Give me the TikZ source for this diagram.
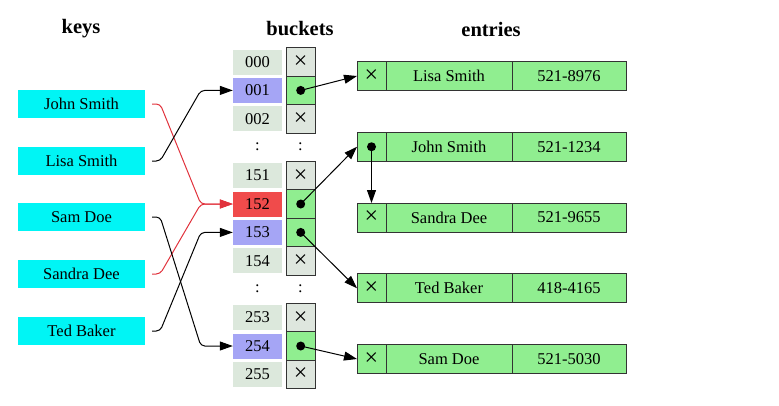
\documentclass[tikz,border=0pt]{standalone}
\usepackage{fontspec}
\setmainfont{Liberation Serif}
\usepackage{xcolor}
\usepackage{tikz}
\usetikzlibrary{positioning,arrows.meta,calc}

\definecolor{keycyan}{RGB}{0,245,245}
\definecolor{cellgrey}{RGB}{220,232,220}
\definecolor{ptrgrey}{RGB}{222,230,222}
\definecolor{entrygreen}{RGB}{144,238,144}
\definecolor{hashblue}{RGB}{165,165,245}
\definecolor{hashred}{RGB}{240,75,75}
\definecolor{linkred}{RGB}{225,50,60}
\newcommand{\cellfont}{\fontsize{16.5}{18}\selectfont}
\newcommand{\nil}{{\fontsize{24}{24}\selectfont ×}}

\begin{document}
\begin{tikzpicture}[x=1pt, y=-1pt,
  title/.style={font=\fontsize{20.5}{22}\selectfont\bfseries},
  keybox/.style={rectangle, fill=keycyan, minimum width=127pt, minimum height=28pt, inner sep=0pt, font=\cellfont},
  hashcell/.style={rectangle, fill=cellgrey, minimum width=49pt, minimum height=25pt, inner sep=0pt, font=\cellfont},
  ptrcell/.style={rectangle, draw=black!80, line width=1pt, fill=ptrgrey, minimum width=29pt, minimum height=28.4pt, inner sep=0pt, outer sep=0pt, font=\cellfont},
  xcell/.style={rectangle, draw=black!80, line width=1pt, fill=entrygreen, minimum width=29pt, minimum height=29pt, inner sep=0pt, outer sep=0pt, font=\cellfont},
  namecell/.style={xcell, minimum width=126pt},
  telcell/.style={xcell, minimum width=114pt},
  keylink/.style={-{Triangle[length=13pt,width=9pt]}, line width=1pt, shorten <=7pt, rounded corners=4pt},
  ptrlink/.style={-{Triangle[length=13pt,width=9pt]}, line width=1pt}
]
  \useasboundingbox (0,0) rectangle (779,405);

  % titles
  \node[title] (keystitle) at (81,29) {keys};
  \node[title] (buckettitle) at (300,29) {buckets};
  \node[title] (entrytitle) at (491,29) {entries};

  % keys
  \node[keybox] (john) at (81.5,104) {John Smith};
  \node[keybox] (lisa) at (81.5,161) {Lisa Smith};
  \node[keybox] (sam) at (81.5,217) {Sam Doe};
  \node[keybox] (sandra) at (81.5,274) {Sandra Dee};
  \node[keybox] (ted) at (81.5,331) {Ted Baker};

  % buckets
  \node[hashcell] (b000) at (257.5,62) {000};
  \node[hashcell, fill=hashblue] (b001) at (257.5,90.4) {001};
  \node[hashcell] (b002) at (257.5,118.8) {002};
  \node[font=\cellfont] (dots1) at (257.5,147) {:};
  \node[hashcell] (b151) at (257.5,175.6) {151};
  \node[hashcell, fill=hashred] (b152) at (257.5,204) {152};
  \node[hashcell, fill=hashblue] (b153) at (257.5,232.4) {153};
  \node[hashcell] (b154) at (257.5,260.8) {154};
  \node[font=\cellfont] (dots2) at (257.5,289) {:};
  \node[hashcell] (b253) at (257.5,317.6) {253};
  \node[hashcell, fill=hashblue] (b254) at (257.5,346) {254};
  \node[hashcell] (b255) at (257.5,374.4) {255};

  \node[ptrcell, right=4pt of b000] (p000) {\nil};
  \node[ptrcell, right=4pt of b001, fill=entrygreen] (p001) {};
  \node[ptrcell, right=4pt of b002] (p002) {\nil};
  \node[font=\cellfont] (pdots1) at (300.5,147) {:};
  \node[ptrcell, right=4pt of b151] (p151) {\nil};
  \node[ptrcell, right=4pt of b152, fill=entrygreen] (p152) {};
  \node[ptrcell, right=4pt of b153, fill=entrygreen] (p153) {};
  \node[ptrcell, right=4pt of b154] (p154) {\nil};
  \node[font=\cellfont] (pdots2) at (300.5,289) {:};
  \node[ptrcell, right=4pt of b253] (p253) {\nil};
  \node[ptrcell, right=4pt of b254, fill=entrygreen] (p254) {};
  \node[ptrcell, right=4pt of b255] (p255) {\nil};

  % entries
  \node[xcell] (lisax) at (371.5,76) {\nil};
  \node[namecell, right=0pt of lisax] (lisaname) {Lisa Smith};
  \node[telcell, right=0pt of lisaname] (lisatel) {521-8976};

  \node[xcell] (johnx) at (371.5,146.75) {};
  \node[namecell, right=0pt of johnx] (johnname) {John Smith};
  \node[telcell, right=0pt of johnname] (johntel) {521-1234};

  \node[xcell] (sandrax) at (371.5,217.5) {\nil};
  \node[namecell, right=0pt of sandrax] (sandraname) {Sandra Dee};
  \node[telcell, right=0pt of sandraname] (sandratel) {521-9655};

  \node[xcell] (tedx) at (371.5,288.25) {\nil};
  \node[namecell, right=0pt of tedx] (tedname) {Ted Baker};
  \node[telcell, right=0pt of tedname] (tedtel) {418-4165};

  \node[xcell] (samx) at (371.5,359) {\nil};
  \node[namecell, right=0pt of samx] (samname) {Sam Doe};
  \node[telcell, right=0pt of samname] (samtel) {521-5030};

  % keys to buckets
  \draw[keylink, linkred] (john.east) -- ++(15,0) -- ($(b152.west)+(-32,0)$) -- (b152.west);
  \draw[keylink, linkred] (sandra.east) -- ++(15,0) -- ($(b152.west)+(-32,0)$) -- (b152.west);
  \draw[keylink] (lisa.east) -- ++(15,0) -- ($(b001.west)+(-32,0)$) -- (b001.west);
  \draw[keylink] (sam.east) -- ++(15,0) -- ($(b254.west)+(-32,0)$) -- (b254.west);
  \draw[keylink] (ted.east) -- ++(15,0) -- ($(b153.west)+(-32,0)$) -- (b153.west);

  % buckets to entries
  \draw[ptrlink] (p001.center) -- (lisax.west);
  \draw[ptrlink] (p152.center) -- (johnx.west);
  \draw[ptrlink] (johnx.center) -- (sandrax.north);
  \draw[ptrlink] (p153.center) -- (tedx.west);
  \draw[ptrlink] (p254.center) -- (samx.west);

  \fill (p001) circle (4.5);
  \fill (p152) circle (4.5);
  \fill (p153) circle (4.5);
  \fill (p254) circle (4.5);
  \fill (johnx) circle (4.5);
\end{tikzpicture}
\end{document}
